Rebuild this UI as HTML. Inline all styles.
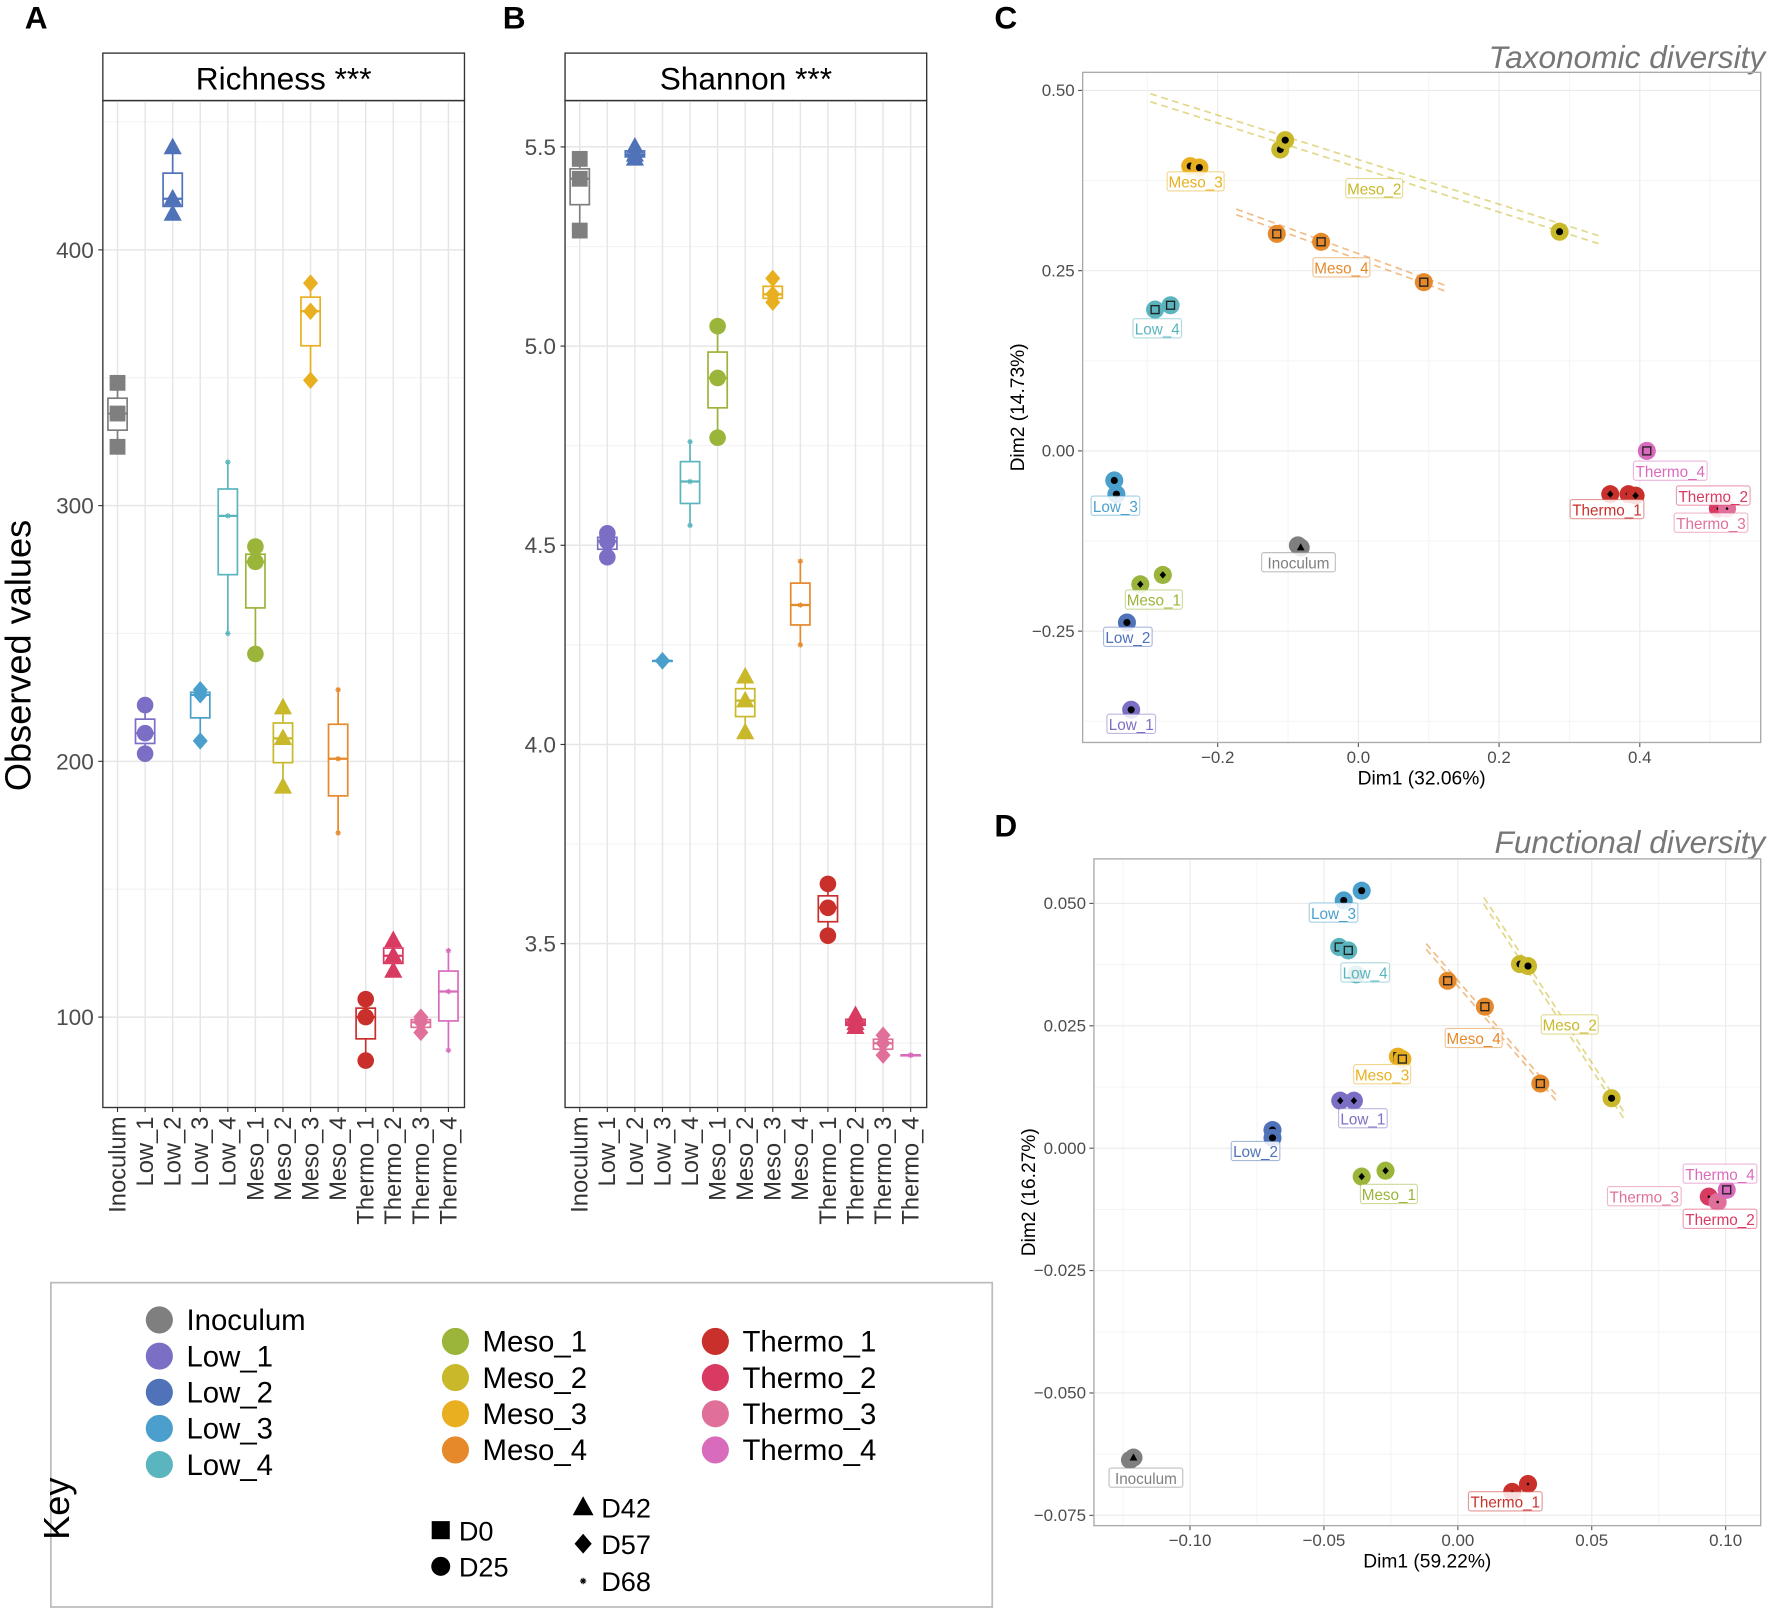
<!DOCTYPE html>
<html><head><meta charset="utf-8"><style>
html,body{margin:0;padding:0;background:#fff}
svg{display:block}
text{font-family:"Liberation Sans",Arial,sans-serif}
</style></head><body>
<svg id="fig" width="1772" height="1613" viewBox="0 0 1568 1427.3" xmlns="http://www.w3.org/2000/svg"></svg>
<script>
const groups=["Inoculum","Low_1","Low_2","Low_3","Low_4","Meso_1","Meso_2","Meso_3","Meso_4","Thermo_1","Thermo_2","Thermo_3","Thermo_4"];
const colors=["#7f7f7f","#7a6fc4","#4f72b8","#4a9fcc","#5bb5be","#9ab53a","#c8b82a","#e8b020","#e6892a","#c9302c","#d93a62","#e0709a","#d96bbd"];
const shapesA=["square","circle","triangle","diamond","star","circle","triangle","diamond","star","circle","triangle","diamond","star"];
const richness=[[348,336,323],[222,211,203],[440,420,414],[228,226,208],[317,296,250],[284,278,242],[221,209,190],[387,376,349],[228,201,172],[107,100,83],[130,124,118],[100,98,94],[126,110,87]];
const shannon=[[5.47,5.42,5.29],[4.53,4.51,4.47],[5.50,5.48,5.47],[4.21,4.21,4.21],[4.76,4.66,4.55],[5.05,4.92,4.77],[4.17,4.11,4.03],[5.17,5.13,5.11],[4.46,4.35,4.25],[3.65,3.59,3.52],[3.32,3.30,3.29],[3.27,3.25,3.22],[3.22,3.22,3.22]];
const richTicks=[100,200,300,400];
const shanTicks=[3.5,4.0,4.5,5.0,5.5];
// PCA taxonomic: [groupIndex, dim1, dim2, shape]
const pcaTaxo=[[0,-0.086,-0.131,"triangle"],[0,-0.082,-0.134,"triangle"],[1,-0.323,-0.359,"circle"],[2,-0.329,-0.238,"circle"],[3,-0.347,-0.041,"circle"],[3,-0.344,-0.060,"circle"],[4,-0.289,0.196,"square"],[4,-0.267,0.202,"square"],[5,-0.310,-0.185,"diamond"],[5,-0.278,-0.172,"diamond"],[6,-0.111,0.418,"circle"],[6,-0.104,0.431,"circle"],[6,0.286,0.304,"circle"],[7,-0.239,0.395,"circle"],[7,-0.226,0.393,"circle"],[8,-0.116,0.301,"square"],[8,-0.053,0.290,"square"],[8,0.093,0.234,"square"],[9,0.358,-0.060,"diamond"],[9,0.384,-0.060,"diamond"],[9,0.394,-0.062,"diamond"],[10,0.511,-0.080,"star"],[11,0.524,-0.080,"star"],[12,0.410,0.000,"square"]];
const pcaFunc=[[3,-0.0426,0.0506,"circle"],[3,-0.0359,0.0526,"circle"],[4,-0.0443,0.0411,"square"],[4,-0.0409,0.0404,"square"],[4,-0.0380,0.0355,"square"],[6,0.0232,0.0376,"circle"],[6,0.0262,0.0372,"circle"],[6,0.0574,0.0102,"circle"],[8,-0.0038,0.0342,"square"],[8,0.0101,0.0289,"square"],[8,0.0308,0.0132,"square"],[7,-0.0224,0.0187,"square"],[7,-0.0207,0.0182,"square"],[1,-0.0439,0.0097,"diamond"],[1,-0.0388,0.0097,"diamond"],[2,-0.0692,0.0037,"circle"],[2,-0.0692,0.0021,"circle"],[5,-0.0359,-0.0058,"diamond"],[5,-0.0270,-0.0046,"diamond"],[10,0.0937,-0.0099,"star"],[11,0.0970,-0.0110,"star"],[12,0.1004,-0.0085,"square"],[0,-0.1224,-0.0637,"triangle"],[0,-0.1211,-0.0632,"triangle"],[9,0.0203,-0.0702,"star"],[9,0.0262,-0.0686,"star"]];
const taxoXTicks=[-0.2,0.0,0.2,0.4], taxoYTicks=[-0.25,0.00,0.25,0.50];
const funcXTicks=[-0.10,-0.05,0.00,0.05,0.10], funcYTicks=[-0.075,-0.050,-0.025,0.000,0.025,0.050];

const NS="http://www.w3.org/2000/svg", svg=document.getElementById("fig");
function el(tag,attrs,parent,txt){const e=document.createElementNS(NS,tag);for(const k in attrs)e.setAttribute(k,attrs[k]);if(txt!==undefined)e.textContent=txt;(parent||svg).appendChild(e);return e;}
function shape(t,cx,cy,s,fill,parent){
  let e;
  if(t==="square")e=el("rect",{x:cx-s,y:cy-s,width:2*s,height:2*s,fill:fill},parent);
  else if(t==="circle")e=el("circle",{cx:cx,cy:cy,r:s*1.05,fill:fill},parent);
  else if(t==="triangle")e=el("polygon",{points:`${cx},${cy-s*1.25} ${cx-s*1.15},${cy+s*0.85} ${cx+s*1.15},${cy+s*0.85}`,fill:fill},parent);
  else if(t==="diamond")e=el("polygon",{points:`${cx},${cy-s*1.1} ${cx+s*0.95},${cy} ${cx},${cy+s*1.1} ${cx-s*0.95},${cy}`,fill:fill},parent);
  else{e=el("g",{stroke:fill,"stroke-width":1},parent);const r=s*0.35;
    el("line",{x1:cx-r,y1:cy,x2:cx+r,y2:cy},e);el("line",{x1:cx,y1:cy-r,x2:cx,y2:cy+r},e);
    el("line",{x1:cx-r*0.7,y1:cy-r*0.7,x2:cx+r*0.7,y2:cy+r*0.7},e);el("line",{x1:cx-r*0.7,y1:cy+r*0.7,x2:cx+r*0.7,y2:cy-r*0.7},e);}
  return e;
}
function fmt(v,d){let s=Math.abs(v).toFixed(d);return (v<0?"\u2212":"")+s;}

// panel letters
[["A",32,25],["B",455,25],["C",890,25],["D",890,740]].forEach(p=>{const t=el("text",{x:p[1],y:p[2],"font-size":28,"font-weight":"bold","text-anchor":"middle"},svg,p[0]);

});

function boxPanel(x0,title,data,ticks,vmin,vpx,v0,dec,name){
  const g=el("g",{});
  
  
  const top=89,bot=980,w=320;
  const Y=v=>v0-(v-vmin)*vpx;
  const X=i=>x0+13+i*24.4;
  // strip
  const st=el("rect",{x:x0,y:47,width:w,height:42,fill:"#fff",stroke:"#333","stroke-width":1.2},g);
  
  
  el("text",{x:x0+w/2,y:79,"font-size":28,"text-anchor":"middle"},g,title);
  // grid
  const step=ticks[1]-ticks[0];
  for(let i=-1;i<ticks.length;i++){const v=ticks[0]+(i+0.5)*step;const y=Y(v);if(y>top&&y<bot)el("line",{x1:x0,x2:x0+w,y1:y,y2:y,stroke:"#f3f3f3","stroke-width":1},g);}
  ticks.forEach(v=>{const y=Y(v);el("line",{x1:x0,x2:x0+w,y1:y,y2:y,stroke:"#e6e6e6","stroke-width":1.3},g);
    el("line",{x1:x0-4,x2:x0,y1:y,y2:y,stroke:"#333"},g);
    const t=el("text",{x:x0-8,y:y+7,"font-size":20,"text-anchor":"end",fill:"#4d4d4d"},g,v.toFixed(dec));
    
    });
  groups.forEach((gname,i)=>{el("line",{x1:X(i),x2:X(i),y1:top,y2:bot,stroke:"#e6e6e6","stroke-width":1.3},g);
    el("line",{x1:X(i),x2:X(i),y1:bot,y2:bot+4,stroke:"#333"},g);
    const t=el("text",{x:0,y:0,"font-size":21,"text-anchor":"end",fill:"#333",transform:`translate(${X(i)+7},${bot+8}) rotate(-90)`},g,gname);
    
    });
  data.forEach((pts,i)=>{
    const s=[...pts].sort((a,b)=>a-b);const q1=(s[0]+s[1])/2,med=s[1],q3=(s[1]+s[2])/2;
    const c=colors[i],x=X(i),hw=8.5;
    const bg=el("g",{},g);
    
    
    el("line",{x1:x,x2:x,y1:Y(s[2]),y2:Y(q3),stroke:c,"stroke-width":1.5},bg);
    el("line",{x1:x,x2:x,y1:Y(q1),y2:Y(s[0]),stroke:c,"stroke-width":1.5},bg);
    el("rect",{x:x-hw,y:Y(q3),width:2*hw,height:Math.max(Y(q1)-Y(q3),0.5),fill:"#fff",stroke:c,"stroke-width":1.5},bg);
    el("line",{x1:x-hw,x2:x+hw,y1:Y(med),y2:Y(med),stroke:c,"stroke-width":2},bg);
    pts.forEach(v=>{const p=shape(shapesA[i],x,Y(v),7,c,bg);
      
      });
  });
  el("rect",{x:x0,y:top,width:w,height:bot-top,fill:"none",stroke:"#333","stroke-width":1.2},g);
}
boxPanel(91,"Richness ***",richness,richTicks,100,2.263,900,0,"richness-panel");
boxPanel(500,"Shannon ***",shannon,shanTicks,3.5,352.5,835,1,"shannon-panel");
const yl=el("text",{x:0,y:0,"font-size":32,"text-anchor":"middle",transform:"translate(27,580) rotate(-90)"},svg,"Observed values");



// legend
const lg=el("g",{});


el("rect",{x:45,y:1135,width:833,height:287,fill:"#fff",stroke:"#bbb","stroke-width":1.5},lg);
el("text",{x:0,y:0,"font-size":32,"text-anchor":"middle",transform:"translate(61,1335) rotate(-90)"},lg,"Key");
const legCols=[[0,5,141,1168],[5,9,403,1187],[9,13,633,1187]];
legCols.forEach(c=>{for(let i=c[0];i<c[1];i++){const y=c[3]+(i-c[0])*32;
  const e=el("g",{},lg);
  
  
  el("circle",{cx:c[2],cy:y,r:12,fill:colors[i]},e);
  el("text",{x:c[2]+24,y:y+9,"font-size":26},e,groups[i]);}});
[["square",390,1354,"D0"],["circle",390,1386,"D25"],["triangle",516,1334,"D42"],["diamond",516,1366,"D57"],["star",516,1399,"D68"]].forEach(s=>{
  const e=el("g",{},lg);
  
  
  shape(s[0],s[1],s[2],s[0]==="star"?8:8,"#000",e);
  el("text",{x:s[1]+16,y:s[2]+9,"font-size":24},e,s[3]);});

function pcaPanel(o){
  const g=el("g",{});
  
  
  const X=v=>o.x0px+v*o.xs, Y=v=>o.y0px-v*o.ys;
  const t=el("text",{x:1562,y:o.titleY,"font-size":28,"font-style":"italic","text-anchor":"end",fill:"#777"},g,o.title);
  
  
  const dx=o.xt[1]-o.xt[0],dy=o.yt[1]-o.yt[0];
  for(let i=-1;i<=o.xt.length;i++){const x=X(o.xt[0]+(i+0.5)*dx);if(x>o.L&&x<o.R)el("line",{x1:x,x2:x,y1:o.T,y2:o.B,stroke:"#f5f5f5"},g);}
  for(let i=-1;i<=o.yt.length;i++){const y=Y(o.yt[0]+(i+0.5)*dy);if(y>o.T&&y<o.B)el("line",{x1:o.L,x2:o.R,y1:y,y2:y,stroke:"#f5f5f5"},g);}
  o.xt.forEach(v=>{const x=X(v);el("line",{x1:x,x2:x,y1:o.T,y2:o.B,stroke:"#ebebeb"},g);el("line",{x1:x,x2:x,y1:o.B,y2:o.B+4,stroke:"#555"},g);
    el("text",{x:x,y:o.B+18,"font-size":15,"text-anchor":"middle",fill:"#4d4d4d"},g,fmt(v,o.xd));});
  o.yt.forEach(v=>{const y=Y(v);el("line",{x1:o.L,x2:o.R,y1:y,y2:y,stroke:"#ebebeb"},g);el("line",{x1:o.L-4,x2:o.L,y1:y,y2:y,stroke:"#555"},g);
    el("text",{x:o.L-7,y:y+5,"font-size":15,"text-anchor":"end",fill:"#4d4d4d"},g,fmt(v,o.yd));});
  el("rect",{x:o.L,y:o.T,width:o.R-o.L,height:o.B-o.T,fill:"none",stroke:"#aaa","stroke-width":1.2},g);
  el("text",{x:(o.L+o.R)/2,y:o.B+37,"font-size":17,"text-anchor":"middle"},g,o.xlab);
  el("text",{x:0,y:0,"font-size":17,"text-anchor":"middle",transform:`translate(${o.L-52},${(o.T+o.B)/2}) rotate(-90)`},g,o.ylab);
  o.ell.forEach(e=>{const c=colors[e[0]];
    el("line",{x1:e[1],y1:e[2],x2:e[3],y2:e[4],stroke:c,"stroke-opacity":0.55,"stroke-width":1.5,"stroke-dasharray":"6,4"},g);
    el("line",{x1:e[1],y1:e[2]+e[5],x2:e[3],y2:e[4]+e[5],stroke:c,"stroke-opacity":0.55,"stroke-width":1.5,"stroke-dasharray":"6,4"},g);});
  o.data.forEach(p=>{const x=X(p[1]),y=Y(p[2]);
    const pg=el("g",{},g);
    
    
    el("circle",{cx:x,cy:y,r:8,fill:colors[p[0]]},pg);
    if(p[3]==="square")el("rect",{x:x-3.5,y:y-3.5,width:7,height:7,fill:"none",stroke:"#222","stroke-width":1.2},pg);
    else shape(p[3],x,y,3,"#000",pg);});
  o.labels.forEach(l=>{const i=groups.indexOf(l[0]);const w=l[0].length*7.4+6;
    const lgp=el("g",{},g);
    
    
    el("rect",{x:l[1]-w/2,y:l[2]-9,width:w,height:17,fill:"#fff","fill-opacity":0.85,stroke:colors[i],"stroke-opacity":0.5,rx:2},lgp);
    el("text",{x:l[1],y:l[2]+5,"font-size":13.5,"text-anchor":"middle",fill:colors[i]},lgp,l[0]);});
}
pcaPanel({name:"taxonomic-pca",title:"Taxonomic diversity",titleY:60,L:958,R:1558,T:64,B:657,x0px:1202,xs:622.5,y0px:399,ys:638,
  xt:taxoXTicks,yt:taxoYTicks,xd:1,yd:2,xlab:"Dim1 (32.06%)",ylab:"Dim2 (14.73%)",data:pcaTaxo,
  ell:[[6,1018,90,1416,216,-7],[8,1094,190,1280,258,-5]],
  labels:[["Low_3",987,448],["Inoculum",1149,498],["Meso_1",1021,531],["Low_2",998,564],["Low_1",1001,641],["Thermo_1",1422,451],["Thermo_4",1478,417],["Thermo_2",1516,439],["Thermo_3",1514,463],["Low_4",1024,291],["Meso_3",1058,161],["Meso_2",1216,167],["Meso_4",1187,237]]});
pcaPanel({name:"functional-pca",title:"Functional diversity",titleY:755,L:968,R:1558,T:760,B:1350,x0px:1290,xs:2370,y0px:1016,ys:4332,
  xt:funcXTicks,yt:funcYTicks,xd:2,yd:3,xlab:"Dim1 (59.22%)",ylab:"Dim2 (16.27%)",data:pcaFunc,
  ell:[[6,1313,800,1437,990,-6],[8,1262,840,1378,975,-5]],
  labels:[["Low_3",1180,808],["Low_4",1208,861],["Meso_2",1389,907],["Meso_4",1304,919],["Meso_3",1223,951],["Low_1",1206,990],["Low_2",1111,1019],["Meso_1",1229,1057],["Thermo_4",1522,1039],["Thermo_3",1455,1059],["Thermo_2",1522,1079],["Inoculum",1014,1308],["Thermo_1",1332,1329]]});
</script>
</body></html>
